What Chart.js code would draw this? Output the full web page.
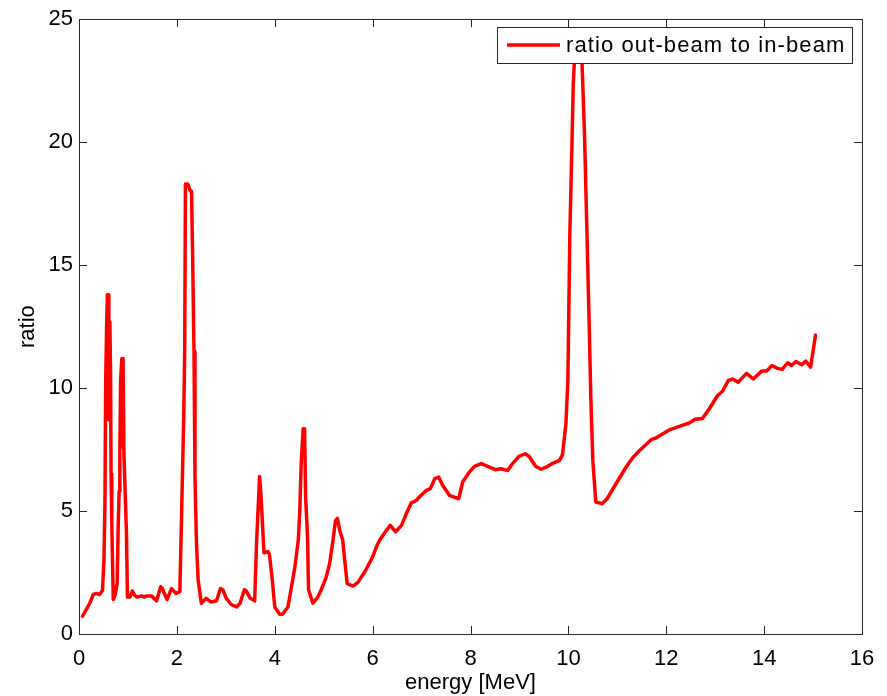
<!DOCTYPE html>
<html>
<head>
<meta charset="utf-8">
<script src="https://cdn.jsdelivr.net/npm/chart.js@4"></script>
<style>
  html, body { margin: 0; padding: 0; background: #fff; }
  #wrap { width: 887px; height: 696px; }
</style>
</head>
<body>
<div id="wrap"><canvas id="ratioChart" width="887" height="696"></canvas></div>
<script>
// energia em MeV (eixo x)
const energy = [
  0.07, 0.15, 0.22, 0.29, 0.35, 0.42, 0.48, 0.51, 0.53, 0.545, 0.565, 0.58, 0.6, 0.61, 0.63, 0.645, 0.655, 0.67,
  0.7, 0.74, 0.78, 0.8, 0.82, 0.835, 0.85, 0.875, 0.89, 0.9, 0.92, 0.97, 0.99, 1.04, 1.09, 1.13, 1.18, 1.28,
  1.33, 1.38, 1.48, 1.585, 1.67, 1.7, 1.8, 1.89, 1.98, 2.06, 2.08, 2.11, 2.14, 2.16, 2.175, 2.22, 2.28, 2.3,
  2.32, 2.35, 2.37, 2.4, 2.435, 2.5, 2.6, 2.7, 2.81, 2.89, 2.94, 3.01, 3.11, 3.22, 3.29, 3.38, 3.42, 3.5,
  3.59, 3.63, 3.69, 3.72, 3.78, 3.86, 3.89, 3.95, 4.0, 4.1, 4.16, 4.27, 4.34, 4.41, 4.48, 4.51, 4.54, 4.58,
  4.61, 4.63, 4.67, 4.69, 4.78, 4.88, 4.95, 5.05, 5.12, 5.19, 5.24, 5.28, 5.33, 5.39, 5.43, 5.48, 5.6, 5.7,
  5.84, 5.94, 6.0, 6.09, 6.14, 6.24, 6.36, 6.47, 6.59, 6.69, 6.79, 6.89, 6.99, 7.1, 7.18, 7.27, 7.35, 7.43,
  7.57, 7.76, 7.84, 7.98, 8.08, 8.22, 8.35, 8.51, 8.62, 8.76, 8.86, 8.99, 9.12, 9.2, 9.33, 9.44, 9.58, 9.67,
  9.82, 9.88, 9.95, 9.99, 10.03, 10.07, 10.1, 10.14, 10.18, 10.24, 10.28, 10.33, 10.38, 10.43, 10.46, 10.5,
  10.56, 10.69, 10.79, 10.97, 11.18, 11.31, 11.45, 11.69, 11.79, 12.06, 12.27, 12.47, 12.59, 12.74, 12.88,
  13.05, 13.15, 13.27, 13.36, 13.47, 13.64, 13.78, 13.95, 14.05, 14.16, 14.27, 14.37, 14.48, 14.56, 14.65,
  14.77, 14.85, 14.95, 15.05
];

// razão fora do feixe / no feixe
const ratio = [
  0.72, 1.0, 1.25, 1.6, 1.65, 1.6, 1.78, 3.0, 5.3, 10.2, 12.6, 13.8, 13.8, 8.7, 12.7, 10.6, 6.5, 4.5,
  1.4, 1.6, 2.05, 4.3, 5.8, 7.5, 10.3, 11.2, 7.6, 11.2, 7.2, 4.1, 1.5, 1.5, 1.75, 1.6, 1.5, 1.55,
  1.5, 1.55, 1.55, 1.35, 1.92, 1.85, 1.4, 1.85, 1.65, 1.72, 3.4, 6.1, 8.8, 11.5, 18.3, 18.3, 18.0, 18.0,
  15.6, 11.5, 6.4, 3.7, 2.2, 1.25, 1.45, 1.3, 1.35, 1.85, 1.8, 1.45, 1.2, 1.1, 1.25, 1.8, 1.75, 1.45,
  1.35, 3.8, 6.4, 5.6, 3.3, 3.35, 3.25, 2.2, 1.1, 0.8, 0.8, 1.1, 1.9, 2.7, 3.8, 4.9, 6.9, 8.35,
  8.35, 5.6, 3.95, 1.8, 1.25, 1.5, 1.8, 2.3, 2.85, 3.8, 4.6, 4.7, 4.2, 3.8, 3.0, 2.05, 1.95, 2.1,
  2.53, 2.9, 3.14, 3.6, 3.8, 4.1, 4.42, 4.15, 4.42, 4.9, 5.33, 5.43, 5.64, 5.84, 5.91, 6.32, 6.38, 6.05,
  5.64, 5.5, 6.18, 6.59, 6.82, 6.93, 6.82, 6.68, 6.72, 6.65, 6.93, 7.22, 7.33, 7.22, 6.82, 6.7, 6.82, 6.93,
  7.06, 7.3, 8.55, 10.3, 16.3, 19.6, 22.35, 24.0, 24.3, 24.3, 23.2, 20.3, 16.3, 12.2, 9.5, 7.06,
  5.37, 5.3, 5.5, 6.1, 6.79, 7.16, 7.45, 7.9, 7.97, 8.3, 8.44, 8.58, 8.73, 8.76, 9.16,
  9.7, 9.87, 10.31, 10.37, 10.24, 10.6, 10.37, 10.69, 10.69, 10.92, 10.8, 10.76, 11.03, 10.92, 11.08,
  10.95, 11.1, 10.85, 12.16
];

const xTicks = [0, 2, 4, 6, 8, 10, 12, 14, 16];
const yTicks = [0, 5, 10, 15, 20, 25];
const seriesLabel = "ratio out-beam to in-beam";

const FONT = "'Liberation Sans', Arial, sans-serif";

// Moldura estilo Matlab: caixa + ticks para dentro nos 4 lados + legenda
const matlabFrame = {
  id: "matlabFrame",
  afterDraw(chart) {
    const ctx = chart.ctx;
    const a = chart.chartArea;
    const sx = chart.scales.x, sy = chart.scales.y;
    const tl = 8;
    ctx.save();
    ctx.strokeStyle = "#262626";
    ctx.lineWidth = 1;
    ctx.strokeRect(Math.round(a.left) + 0.5, Math.round(a.top) + 0.5,
      Math.round(a.right - a.left), Math.round(a.bottom - a.top));
    ctx.beginPath();
    xTicks.forEach(v => {
      const px = Math.round(sx.getPixelForValue(v)) + 0.5;
      ctx.moveTo(px, a.bottom); ctx.lineTo(px, a.bottom - tl);
      ctx.moveTo(px, a.top); ctx.lineTo(px, a.top + tl);
    });
    yTicks.forEach(v => {
      const py = Math.round(sy.getPixelForValue(v)) + 0.5;
      ctx.moveTo(a.left, py); ctx.lineTo(a.left + tl, py);
      ctx.moveTo(a.right, py); ctx.lineTo(a.right - tl, py);
    });
    ctx.stroke();

    // legenda
    const lx = 497, ly = 27, lw = 355, lh = 36;
    ctx.fillStyle = "#fff";
    ctx.fillRect(lx, ly, lw, lh);
    ctx.strokeStyle = "#262626";
    ctx.strokeRect(lx + 0.5, ly + 0.5, lw, lh);
    ctx.strokeStyle = "#ff0000";
    ctx.lineWidth = 3.5;
    ctx.beginPath();
    ctx.moveTo(507, ly + lh / 2);
    ctx.lineTo(560, ly + lh / 2);
    ctx.stroke();
    ctx.fillStyle = "#000";
    ctx.font = "22px " + FONT;
    ctx.letterSpacing = "1.1px";
    ctx.textBaseline = "middle";
    ctx.fillText(seriesLabel, 566, ly + lh / 2 + 1);
    ctx.letterSpacing = "0px";
    ctx.restore();
  }
};

const points = energy.map((e, i) => ({ x: e, y: ratio[i] }));

new Chart(document.getElementById("ratioChart"), {
  type: "line",
  data: {
    datasets: [{
      label: seriesLabel,
      data: points,
      borderColor: "#ff0000",
      borderWidth: 3.5,
      borderJoinStyle: "round",
      borderCapStyle: "round",
      pointRadius: 0,
      tension: 0,
      fill: false
    }]
  },
  options: {
    responsive: false,
    animation: false,
    layout: { padding: { top: 18, right: 25, left: 0, bottom: 0 } },
    plugins: {
      legend: { display: false },
      tooltip: { enabled: false }
    },
    scales: {
      x: {
        type: "linear",
        min: 0,
        max: 16,
        afterFit: s => { s.height = 62; },
        afterBuildTicks: s => { s.ticks = xTicks.map(v => ({ value: v })); },
        grid: { display: false, drawTicks: false },
        border: { display: false },
        ticks: { color: "#000", padding: 12, font: { family: FONT, size: 22 } },
        title: {
          display: true,
          text: "energy [MeV]",
          color: "#000",
          font: { family: FONT, size: 22 },
          padding: { top: 0, bottom: 0 }
        }
      },
      y: {
        min: 0,
        max: 25,
        afterFit: s => { s.width = 79; },
        afterBuildTicks: s => { s.ticks = yTicks.map(v => ({ value: v })); },
        grid: { display: false, drawTicks: false },
        border: { display: false },
        ticks: { color: "#000", padding: 6, font: { family: FONT, size: 22 } },
        title: {
          display: true,
          text: "ratio",
          color: "#000",
          font: { family: FONT, size: 22 },
          padding: { top: 15, bottom: 0 }
        }
      }
    }
  },
  plugins: [matlabFrame]
});
</script>
</body>
</html>
